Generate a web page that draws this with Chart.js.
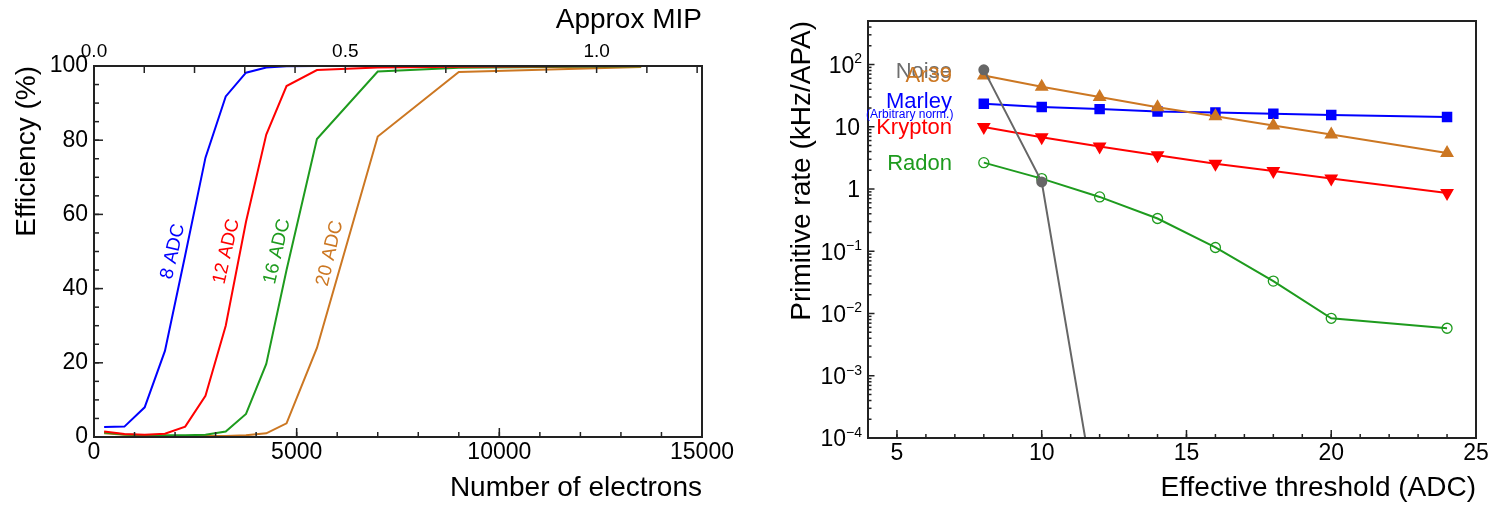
<!DOCTYPE html>
<html>
<head>
<meta charset="utf-8">
<script src="https://cdn.jsdelivr.net/npm/chart.js@4.4.1/dist/chart.umd.min.js"></script>
<style>
  html, body { margin: 0; padding: 0; background: #fff; }
  #effChart { position: absolute; left: 0; top: 0; }
  #rateChart { position: absolute; left: 745px; top: 0; }
</style>
</head>
<body>
<canvas id="effChart" width="745" height="505"></canvas>
<canvas id="rateChart" width="750" height="505"></canvas>
<script>
// ---- left panel: trigger efficiency ----
const electrons = [250, 750, 1250, 1750, 2250, 2750, 3250, 3750, 4250, 4750, 5500, 7000, 9000, 13500];
const eff8 = [2.7, 2.8, 8.0, 23.2, 49, 75.3, 91.8, 98.2, 99.6, 99.9, 100, 100, 100, 100];
const eff12 = [1.5, 0.8, 0.6, 0.9, 2.8, 11.1, 30, 58, 81.5, 94.6, 98.9, 99.6, 99.8, 100];
const eff16 = [1.2, 0.7, 0.5, 0.5, 0.5, 0.6, 1.5, 6.2, 19.7, 45, 80.3, 98.5, 99.5, 99.9];
const eff20 = [1.0, 0.6, 0.4, 0.3, 0.3, 0.3, 0.3, 0.5, 1.0, 3.7, 24, 81, 98.4, 99.7];
const adcNames = ['8 ADC', '12 ADC', '16 ADC', '20 ADC'];
const electronTicks = [0, 5000, 10000, 15000];
const effTicks = [0, 20, 40, 60, 80, 100];
const mipTicks = [0.0, 0.5, 1.0];

// ---- right panel: primitive rates ----
const thresholds = [8, 10, 12, 14, 16, 18, 20, 24];
const noiseThresholds = [8, 10, 12];
const noiseRate = [82, 1.3, 0.0000043];
const ar39Rate = [66.5, 44, 30, 20.6, 14.7, 10.5, 7.5, 3.8];
const marleyRate = [23.4, 20.7, 19.2, 17.6, 17.0, 16.2, 15.4, 14.3];
const kryptonRate = [9.9, 6.8, 4.8, 3.5, 2.55, 1.95, 1.47, 0.865];
const radonRate = [2.65, 1.47, 0.746, 0.336, 0.115, 0.0332, 0.00838, 0.0058];
const thresholdTicks = [5, 10, 15, 20, 25];
const rateDecades = [1e-4, 1e-3, 1e-2, 1e-1, 1, 10, 100];
const rateTickBase = ['10', '10', '10', '10', '1', '10', '10'];
const rateTickExp = ['\u22124', '\u22123', '\u22122', '\u22121', '', '', '2'];

const FONT = "'Liberation Sans', 'DejaVu Sans', Arial, sans-serif";
Chart.defaults.font.family = FONT;
Chart.defaults.color = '#000';

const BLUE = '#0000ff', RED = '#ff0000', GREEN = '#1e9b1e', ORANGE = '#cc7722', GREY = '#666666';

function range(a, b, step) {
    const out = [];
    for (let v = a; v <= b + 1e-9; v += step) out.push(+v.toFixed(6));
    return out;
}

function pts(xs, ys) {
    return xs.map((x, i) => ({ x: x, y: ys[i] }));
}

// box round the plot + inward tick marks
const frameTicks = {
    id: 'frameTicks',
    afterDatasetsDraw(chart, args, opts) {
        const ctx = chart.ctx, a = chart.chartArea;
        ctx.save();
        ctx.strokeStyle = '#222';
        ctx.lineWidth = 1.5;
        (opts.sets || []).forEach(set => {
            const s = chart.scales[set.scale];
            set.values.forEach(v => {
                const p = s.getPixelForValue(v);
                ctx.beginPath();
                if (s.isHorizontal()) {
                    const y0 = s.position === 'top' ? a.top : a.bottom;
                    const dir = s.position === 'top' ? 1 : -1;
                    ctx.moveTo(p, y0);
                    ctx.lineTo(p, y0 + dir * set.len);
                } else {
                    ctx.moveTo(a.left, p);
                    ctx.lineTo(a.left + set.len, p);
                }
                ctx.stroke();
            });
        });
        ctx.lineWidth = 2;
        ctx.strokeRect(a.left, a.top, a.right - a.left, a.bottom - a.top);
        ctx.restore();
    }
};

// text labels anchored in data coordinates
const textLabels = {
    id: 'textLabels',
    afterDatasetsDraw(chart, args, opts) {
        const ctx = chart.ctx;
        const xs = chart.scales.x, ys = chart.scales.y;
        (opts.items || []).forEach(it => {
            ctx.save();
            ctx.font = it.size + 'px ' + FONT;
            ctx.fillStyle = it.color;
            ctx.textAlign = it.align || 'center';
            ctx.textBaseline = 'middle';
            ctx.translate(xs.getPixelForValue(it.x), ys.getPixelForValue(it.y) + (it.dy || 0));
            if (it.rot) ctx.rotate(it.rot * Math.PI / 180);
            ctx.fillText(it.text, 0, 0);
            ctx.restore();
        });
    }
};

// power-of-ten tick labels with real superscripts
const powerLabels = {
    id: 'powerLabels',
    afterDraw(chart) {
        const ctx = chart.ctx, a = chart.chartArea, ys = chart.scales.y;
        ctx.save();
        ctx.fillStyle = '#000';
        ctx.textAlign = 'right';
        ctx.textBaseline = 'middle';
        rateDecades.forEach((v, i) => {
            const p = ys.getPixelForValue(v) + 2;
            let right = a.left - 6;
            const ex = rateTickExp[i];
            if (ex) {
                ctx.font = '14px ' + FONT;
                ctx.fillText(ex, right, p - 7);
                right -= ctx.measureText(ex).width;
            } else {
                right = a.left - 8;
            }
            ctx.font = '23px ' + FONT;
            ctx.fillText(rateTickBase[i], right, p);
        });
        ctx.restore();
    }
};

const electronsPerMip = 12400;
const effColors = [BLUE, RED, GREEN, ORANGE];
const effSeries = [eff8, eff12, eff16, eff20];

new Chart(document.getElementById('effChart'), {
    type: 'line',
    data: {
        datasets: effSeries.map((s, i) => ({
            label: adcNames[i],
            data: pts(electrons, s),
            borderColor: effColors[i],
            borderWidth: 2,
            pointRadius: 0,
            tension: 0,
            fill: false
        }))
    },
    options: {
        responsive: false,
        animation: false,
        layout: { padding: { left: 0, right: 43, top: 0, bottom: 0 } },
        plugins: {
            legend: { display: false },
            tooltip: { enabled: false },
            frameTicks: {
                sets: [
                    { scale: 'x', values: range(0, 15000, 1000), len: 5 },
                    { scale: 'x', values: electronTicks, len: 9 },
                    { scale: 'y', values: range(0, 100, 5), len: 5 },
                    { scale: 'y', values: effTicks, len: 9 },
                    { scale: 'mip', values: range(0, 1.2, 0.1), len: 7 }
                ]
            },
            textLabels: {
                items: [
                    { text: adcNames[0], x: 1950, y: 50, color: BLUE, size: 19, rot: -77 },
                    { text: adcNames[1], x: 3270, y: 50, color: RED, size: 19, rot: -77 },
                    { text: adcNames[2], x: 4520, y: 50, color: GREEN, size: 19, rot: -77 },
                    { text: adcNames[3], x: 5820, y: 49.5, color: ORANGE, size: 19, rot: -77 }
                ]
            }
        },
        scales: {
            x: {
                type: 'linear', position: 'bottom', min: 0, max: 15000,
                ticks: { stepSize: 5000, padding: 2, font: { size: 23 }, maxRotation: 0, autoSkip: false,
                    callback: v => electronTicks.includes(v) ? String(v) : '' },
                grid: { display: false, drawTicks: false },
                border: { display: false },
                title: { display: true, text: 'Number of electrons', align: 'end', font: { size: 28 }, padding: { top: 0, bottom: 0 } },
                afterFit: s => { s.height = 68; }
            },
            mip: {
                type: 'linear', position: 'top', min: 0, max: 15000 / electronsPerMip,
                ticks: { stepSize: 0.5, includeBounds: false, padding: 3, font: { size: 19 }, maxRotation: 0,
                    callback: v => mipTicks.some(t => Math.abs(t - v) < 1e-6) ? v.toFixed(1) : '' },
                grid: { display: false, drawTicks: false },
                border: { display: false },
                title: { display: true, text: 'Approx MIP', align: 'end', font: { size: 28 }, padding: { top: 3, bottom: 0 } },
                afterFit: s => { s.height = 66; }
            },
            y: {
                type: 'linear', min: 0, max: 100,
                ticks: { stepSize: 20, padding: 6, font: { size: 23 } },
                grid: { display: false, drawTicks: false },
                border: { display: false },
                title: { display: true, text: 'Efficiency (%)', align: 'end', font: { size: 28 }, padding: { top: 10, bottom: 0 } },
                afterFit: s => { s.width = 94; }
            }
        }
    },
    plugins: [frameTicks, textLabels]
});

new Chart(document.getElementById('rateChart'), {
    type: 'line',
    data: {
        datasets: [
            { label: 'Noise', data: pts(noiseThresholds, noiseRate), borderColor: GREY, backgroundColor: GREY,
              borderWidth: 2, pointRadius: 4.5, pointStyle: 'circle' },
            { label: 'Ar39', data: pts(thresholds, ar39Rate), borderColor: ORANGE, backgroundColor: ORANGE,
              borderWidth: 2, pointRadius: 6, pointStyle: 'triangle' },
            { label: 'Marley', data: pts(thresholds, marleyRate), borderColor: BLUE, backgroundColor: BLUE,
              borderWidth: 2, pointRadius: 6, pointStyle: 'rect' },
            { label: 'Krypton', data: pts(thresholds, kryptonRate), borderColor: RED, backgroundColor: RED,
              borderWidth: 2, pointRadius: 6, pointStyle: 'triangle', pointRotation: 180 },
            { label: 'Radon', data: pts(thresholds, radonRate), borderColor: GREEN, backgroundColor: 'rgba(255,255,255,0)',
              borderWidth: 2, pointRadius: 5, pointBorderWidth: 1.3, pointStyle: 'circle' }
        ]
    },
    options: {
        responsive: false,
        animation: false,
        layout: { padding: { left: 0, right: 19, top: 21, bottom: 0 } },
        plugins: {
            legend: { display: false },
            tooltip: { enabled: false },
            frameTicks: {
                sets: [
                    { scale: 'x', values: range(4, 25, 1), len: 4 },
                    { scale: 'x', values: thresholdTicks, len: 8 },
                    { scale: 'y', values: rateDecades.flatMap(d => range(2, 9, 1).map(m => m * d)).filter(v => v < 500), len: 3.5 },
                    { scale: 'y', values: rateDecades, len: 6.5 }
                ]
            },
            textLabels: {
                items: [
                    { text: 'Noise', x: 6.9, y: noiseRate[0], dy: 2, color: '#6e6e6e', size: 22, align: 'right' },
                    { text: 'Ar39', x: 6.9, y: ar39Rate[0], dy: 0, color: ORANGE, size: 22, align: 'right' },
                    { text: 'Marley', x: 6.9, y: marleyRate[0], dy: -2, color: BLUE, size: 22, align: 'right' },
                    { text: '(Arbitrary norm.)', x: 6.95, y: marleyRate[0], dy: 11, color: BLUE, size: 12, align: 'right' },
                    { text: 'Krypton', x: 6.9, y: kryptonRate[0], dy: 1, color: RED, size: 22, align: 'right' },
                    { text: 'Radon', x: 6.9, y: radonRate[0], dy: 1, color: GREEN, size: 22, align: 'right' }
                ]
            }
        },
        scales: {
            x: {
                type: 'linear', min: 4, max: 25,
                ticks: { stepSize: 5, includeBounds: false, padding: 2, font: { size: 23 }, maxRotation: 0 },
                grid: { display: false, drawTicks: false },
                border: { display: false },
                title: { display: true, text: 'Effective threshold (ADC)', align: 'end', font: { size: 28 }, padding: { top: 0, bottom: 0 } },
                afterFit: s => { s.height = 67; }
            },
            y: {
                type: 'logarithmic', min: 1e-4, max: 500,
                afterBuildTicks: s => { s.ticks = rateDecades.map(v => ({ value: v })); },
                ticks: { padding: 3, font: { size: 23 }, autoSkip: false, callback: () => '' },
                grid: { display: false, drawTicks: false },
                border: { display: false },
                title: { display: true, text: 'Primitive rate (kHz/APA)', align: 'end', font: { size: 28 }, padding: { top: 40, bottom: 0 } },
                afterFit: s => { s.width = 123; }
            }
        }
    },
    plugins: [frameTicks, textLabels, powerLabels]
});
</script>
</body>
</html>
